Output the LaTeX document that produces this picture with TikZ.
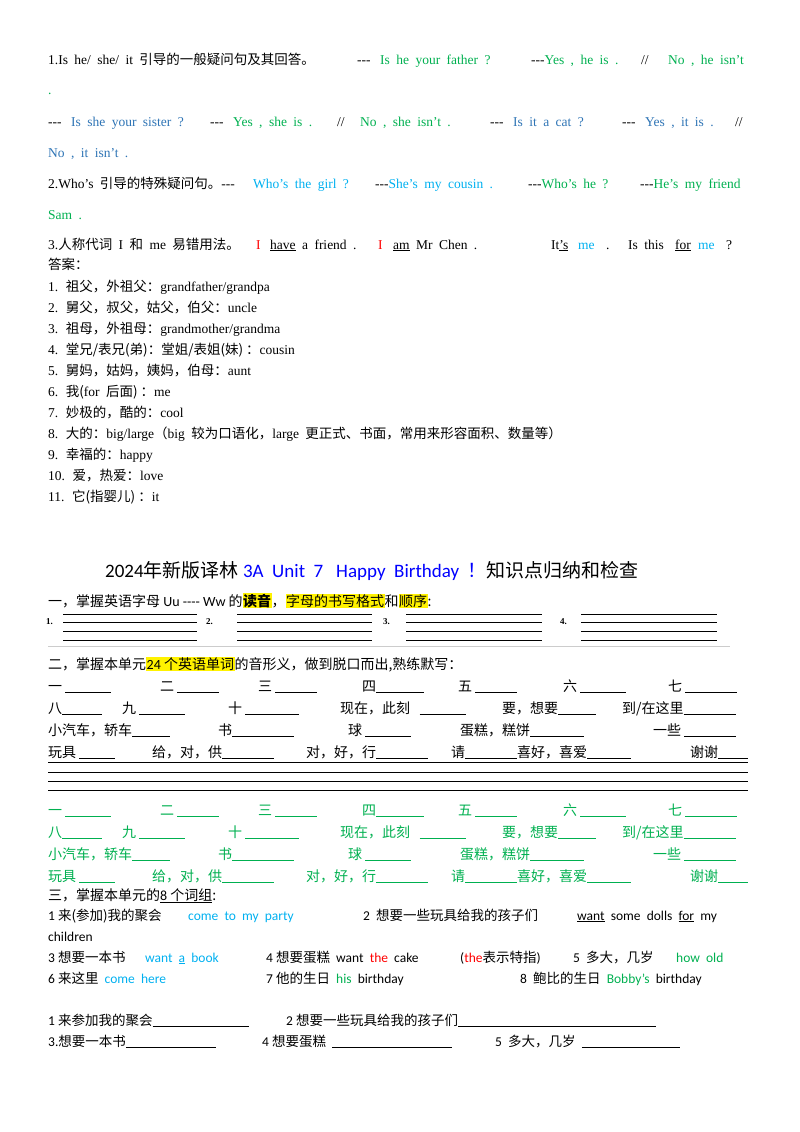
\documentclass[tikz,border=0pt]{standalone}
\usepackage{fontspec}
\setmainfont{Liberation Serif}[WordSpace=1.9]
\newfontfamily\cjk{Noto Sans CJK SC}
\newfontfamily\cbr{Carlito}
\definecolor{gr}{RGB}{0,176,80}
\definecolor{bu}{RGB}{46,116,181}
\definecolor{cy}{RGB}{0,176,240}
\definecolor{rd}{RGB}{255,0,0}
\definecolor{tb}{RGB}{0,0,255}
\newcommand\C[1]{{\cjk #1}}
\newcommand\D{-{}-{}-}
\newcommand\bl[1]{\rule[-2pt]{#1pt}{0.6pt}}
\newcommand\hl[1]{{\setlength\fboxsep{0.5pt}\colorbox{yellow}{#1}}}
\newcounter{nn}
\newcommand\T[3]{\stepcounter{nn}\node[txt] (n\arabic{nn}) at (#1,#2) {#3};}
\begin{document}
\begin{tikzpicture}[x=1pt,y=-1pt,txt/.style={anchor=base west,inner sep=0pt,font=\fontsize{13.5}{15}\selectfont}]
\useasboundingbox (0,0) rectangle (800,1132);
% ---- top part (serif) ----
\T{48}{64}{1.Is he/ she/ it \C{引导的一般疑问句及其回答。}}
\T{357}{64}{\D}
\T{380}{64}{\color{gr}Is he your father ?}
\T{531}{64}{\D\color{gr}Yes , he is .}
\T{641}{64}{//}
\T{668}{64}{\color{gr}No , he isn’t}
\T{48}{95}{\color{gr}.}
\T{48}{126}{\D}
\T{71}{126}{\color{bu}Is she your sister ?}
\T{210}{126}{\D}
\T{233}{126}{\color{gr}Yes , she is .}
\T{337}{126}{//}
\T{360}{126}{\color{gr}No , she isn’t .}
\T{490}{126}{\D}
\T{513}{126}{\color{bu}Is it a cat ?}
\T{622}{126}{\D}
\T{645}{126}{\color{bu}Yes , it is .}
\T{735}{126}{//}
\T{48}{157}{\color{bu}No , it isn’t .}
\T{48}{188}{2.Who’s \C{引导的特殊疑问句。}\D}
\T{253}{188}{\color{cy}Who’s the girl ?}
\T{375}{188}{\D\color{cy}She’s my cousin .}
\T{528}{188}{\D\color{gr}Who’s he ?}
\T{640}{188}{\D\color{gr}He’s my friend}
\T{48}{219}{\color{gr}Sam .}
\T{48}{249}{3.\C{人称代词} I \C{和} me \C{易错用法。}}
\T{256}{249}{\color{rd}I}
\T{270}{249}{\underline{have} a friend .}
\T{378}{249}{\color{rd}I}
\T{393}{249}{\underline{am} Mr Chen .}
\T{551}{249}{It\underline{’s}}
\T{578}{249}{\color{cy}me}
\T{606}{249}{.}
\T{628}{249}{Is this}
\T{675}{249}{\underline{for}}
\T{698}{249}{\color{cy}me}
\T{726}{249}{?}
\T{48}{269}{\C{答案：}}
\T{48}{291}{1. \C{祖父，外祖父：}grandfather/grandpa}
\T{48}{312}{2. \C{舅父，叔父，姑父，伯父：}uncle}
\T{48}{333}{3. \C{祖母，外祖母：}grandmother/grandma}
\T{48}{354}{4. \C{堂兄/表兄(弟)：堂姐/表姐(妹)\ ：}cousin}
\T{48}{375}{5. \C{舅妈，姑妈，姨妈，伯母：}aunt}
\T{48}{396}{6. \C{我(}for \C{后面)\ ：}me}
\T{48}{417}{7. \C{妙极的，酷的：}cool}
\T{48}{438}{8. \C{大的：}big/large\C{（}big \C{较为口语化，}large \C{更正式、书面，常用来形容面积、数量等）}}
\T{48}{459}{9. \C{幸福的：}happy}
\T{48}{480}{10. \C{爱，热爱：}love}
\T{48}{501}{11. \C{它(指婴儿)\ ：}it}
% ---- title ----
\T{105}{577}{\fontsize{19}{21}\selectfont\cbr 2024\C{年新版译林}\ \color{tb}3A\ \ Unit\ \ 7\ \ \ Happy\ \ Birthday\ \ \C{！}\color{black}\C{知识点归纳和检查}}
% ---- section 1 ----
\begin{scope}[txt/.append style={font=\fontsize{14}{16}\selectfont\cjk}]
\T{48}{606}{一，掌握英语字母 {\cbr Uu ---- Ww} 的\hl{\bfseries 读音}，\hl{字母的书写格式}和\hl{顺序}:}
\end{scope}
\T{46}{624}{\bfseries\small 1.}
\T{206}{624}{\bfseries\small 2.}
\T{383}{624}{\bfseries\small 3.}
\T{560}{624}{\bfseries\small 4.}
\foreach \a/\b in {63/197,237/372,406/542,581/717}{
  \foreach \yy in {614,622,631,640}{\draw[line width=0.9pt] (\a,\yy) -- (\b,\yy);}}
\draw[gray!40,line width=0.6pt] (48,646) -- (730,646);
% ---- section 2 ----
\begin{scope}[txt/.append style={font=\fontsize{14}{16}\selectfont\cjk}]
\T{48}{669}{二，掌握本单元\hl{{\cbr 24} 个英语单词}的音形义，做到脱口而出,熟练默写：}
\foreach \col/\dy in {black/0,gr/124}{
\begin{scope}[yshift=-\dy pt,every node/.append style={text=\col},color=\col]
\T{48}{691}{一 \bl{46}}
\T{160}{691}{二 \bl{42}}
\T{258}{691}{三 \bl{42}}
\T{362}{691}{四\bl{48}}
\T{458}{691}{五 \bl{42}}
\T{563}{691}{六 \bl{46}}
\T{668}{691}{七 \bl{52}}
\T{48}{713}{八\bl{40}}
\T{122}{713}{九 \bl{46}}
\T{228}{713}{十 \bl{54}}
\T{340}{713}{现在，此刻\ \ \ \bl{46}}
\T{502}{713}{要，想要\bl{38}}
\T{622}{713}{到/在这里\bl{52}}
\T{48}{735}{小汽车，轿车\bl{38}}
\T{218}{735}{书\bl{62}}
\T{348}{735}{球 \bl{46}}
\T{460}{735}{蛋糕，糕饼\bl{54}}
\T{653}{735}{一些 \bl{52}}
\T{48}{757}{玩具 \bl{36}}
\T{152}{757}{给，对，供\bl{52}}
\T{306}{757}{对，好，行\bl{52}}
\T{451}{757}{请\bl{52}喜好，喜爱\bl{44}}
\T{690}{757}{谢谢\bl{30}}
\end{scope}}
\end{scope}
\foreach \yy in {762,772,781,790}{\draw[line width=1pt] (48,\yy) -- (748,\yy);}
% ---- section 3 ----
\begin{scope}[txt/.append style={font=\fontsize{14}{16}\selectfont\cjk}]
\T{48}{900}{三，掌握本单元的\underline{{\cbr 8} 个词组}:}
\end{scope}
\begin{scope}[txt/.append style={font=\fontsize{13.5}{16}\selectfont\cbr}]
\T{48}{920}{1 \C{来(参加)我的聚会}}
\T{188}{920}{\color{cy}come\ \ to\ \ my\ \ party}
\T{363}{920}{2\ \ \C{想要一些玩具给我的孩子们}}
\T{577}{920}{\underline{want}\ \ some\ \ dolls\ \ \underline{for}\ \ my}
\T{48}{941}{children}
\T{48}{962}{3 \C{想要一本书}}
\T{145}{962}{\color{cy}want\ \ \underline{a}\ \ book}
\T{266}{962}{4 \C{想要蛋糕}\ \ want\ \ {\color{rd}the}\ \ cake}
\T{460}{962}{({\color{rd}the}\C{表示特指})}
\T{573}{962}{5\ \ \C{多大，几岁}}
\T{676}{962}{\color{gr}how\ \ old}
\T{48}{983}{6 \C{来这里}\ \ {\color{cy}come\ \ here}}
\T{266}{983}{7 \C{他的生日}\ \ {\color{gr}his}\ \ birthday}
\T{520}{983}{8\ \ \C{鲍比的生日}\ \ {\color{gr}Bobby’s}\ \ birthday}
\T{48}{1025}{1 \C{来参加我的聚会}\bl{96}}
\T{286}{1025}{2 \C{想要一些玩具给我的孩子们}\bl{198}}
\T{48}{1046}{3.\C{想要一本书}\bl{90}}
\T{262}{1046}{4 \C{想要蛋糕}\ \ \bl{120}}
\T{495}{1046}{5\ \ \C{多大，几岁}\ \ \bl{98}}
\end{scope}
\end{tikzpicture}
\end{document}
